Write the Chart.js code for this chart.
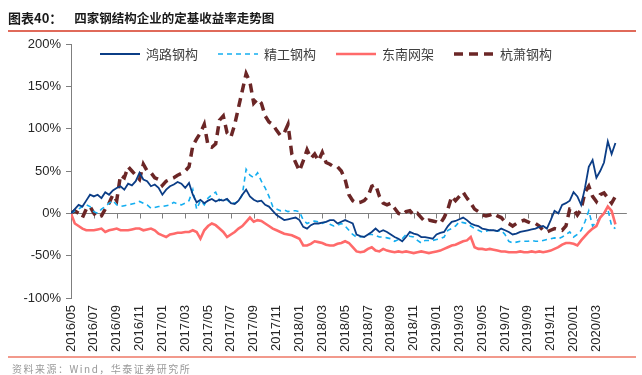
<!DOCTYPE html>
<html>
<head>
<meta charset="utf-8">
<script src="https://cdn.jsdelivr.net/npm/chart.js@4.4.0/dist/chart.umd.min.js"></script>
<style>
  body { margin: 0; background: #fff; }
  #wrap { position: relative; width: 642px; height: 375px; font-family: "Noto Sans CJK SC", sans-serif; }
  #chart { position: absolute; left: 0; top: 0; }
  #title { position: absolute; left: 8px; top: 8px; font-size: 13px; font-weight: bold; color: #1a1a1a; white-space: nowrap; }
  #title span { margin-left: 12px; font-size: 12.5px; }
  #topLine { position: absolute; left: 8px; top: 30px; width: 628px; height: 2px; background: #e06a5a; }
  #bottomLine { position: absolute; left: 8px; top: 356px; width: 628px; height: 2px; background: #f2998c; }
  #source { position: absolute; left: 12px; top: 361px; font-size: 10px; letter-spacing: 1.5px; color: #999; white-space: nowrap; }
</style>
</head>
<body>
<div id="wrap">
  <canvas id="chart" width="642" height="375"></canvas>
  <div id="title">图表40：<span>四家钢结构企业的定基收益率走势图</span></div>
  <div id="topLine"></div>
  <div id="bottomLine"></div>
  <div id="source">资料来源：Wind，华泰证券研究所</div>
</div>
<script>
// tick labels, one every two months (6 points, ~10 days apart)
const monthLabels = ['2016/05', '2016/07', '2016/09', '2016/11', '2017/01', '2017/03', '2017/05', '2017/07',
    '2017/09', '2017/11', '2018/01', '2018/03', '2018/05', '2018/07', '2018/09', '2018/11',
    '2019/01', '2019/03', '2019/05', '2019/07', '2019/09', '2019/11', '2020/01', '2020/03'];

const seriesNames = ['鸿路钢构', '精工钢构', '东南网架', '杭萧钢构'];

// cumulative return since 2016/05, %, three readings per month
const hongluValues = [
    0, 5, 10, 8, 15, 22, 20, 22, 18, 25, 22, 27, 30, 32, 28, 35, 33, 38,
    48, 40, 38, 32, 34, 30, 22, 28, 32, 34, 37, 35, 30, 36, 22, 13, 16, 12,
    15, 17, 14, 16, 15, 17, 12, 11, 15, 22, 28, 20, 16, 14, 15, 10, 8, 3,
    -2, -5, -8, -7, -6, -5, -8, -16, -18, -14, -12, -12, -11, -10, -8, -8, -12, -10,
    -8, -10, -12, -25, -27, -28, -25, -22, -18, -22, -20, -22, -25, -28, -30, -33, -28, -22,
    -24, -25, -28, -28, -29, -30, -25, -23, -22, -15, -10, -9, -7, -5, -8, -12, -14, -15,
    -18, -19, -20, -20, -21, -18, -20, -22, -25, -24, -22, -21, -20, -19, -18, -16, -15, -18,
    -8, 3, 0, 10, 12, 15, 25, 20, 10, 30, 55, 63, 42, 50, 60, 85, 70, 83
];
const jinggongValues = [
    0, 3, 5, 8, 10, 8, 2, 0, 5, 8, 12, 15, 10, 8, 9, 10, 11, 12,
    14, 12, 10, 6, 7, 8, 8, 9, 10, 13, 11, 10, 12, 15, 28, 5, 15, 10,
    18, 22, 25, 15, 18, 16, 12, 12, 14, 22, 52, 45, 42, 48, 38, 30, 20, 8,
    5, 3, 4, 2, 3, 3, 2, -8, -12, -10, -9, -10, -12, -10, -13, -15, -14, -12,
    -15, -20, -25, -28, -28, -27, -25, -25, -26, -28, -28, -29, -30, -33, -31, -30, -25, -27,
    -28, -32, -35, -32, -32, -32, -31, -30, -28, -20, -18, -15, -10, -11, -12, -15, -18, -20,
    -22, -21, -20, -20, -21, -20, -25, -33, -35, -34, -33, -33, -33, -32, -33, -33, -32, -31,
    -30, -29, -30, -28, -25, -22, -28, -25, -20, -10, 3, -15, -10, -5, 0, 5, -15, -18
];
const dongnanValues = [
    0, -12, -15, -18, -20, -20, -20, -19, -18, -22, -20, -19, -18, -20, -20, -20, -19, -18,
    -18, -20, -19, -18, -20, -24, -26, -28, -25, -24, -23, -23, -22, -22, -20, -22, -30, -20,
    -15, -12, -14, -18, -22, -28, -25, -22, -18, -15, -10, -5, -10, -8, -9, -12, -15, -18,
    -20, -22, -24, -25, -26, -28, -30, -38, -38, -36, -33, -34, -35, -37, -38, -38, -36, -35,
    -33, -35, -40, -45, -46, -45, -42, -40, -44, -45, -42, -44, -45, -46, -45, -46, -45, -46,
    -47, -46, -45, -46, -47, -46, -45, -44, -42, -40, -38, -37, -35, -33, -32, -28, -40, -42,
    -42, -43, -42, -43, -44, -45, -45, -46, -46, -46, -45, -46, -46, -45, -46, -45, -46, -45,
    -44, -42, -40, -37, -35, -35, -36, -38, -32, -27, -22, -18, -15, -5, 0, 8, 3, -13
];
const hangxiaoValues = [
    0, 3, 0, -5, 5, 8, 0, -5, -3, 5, 12, 22, 15, 45, 42, 55, 50, 45,
    40, 58, 50, 48, 42, 40, 33, 38, 40, 42, 45, 47, 50, 55, 80, 88, 95, 105,
    80, 78, 82, 110, 115, 95, 90, 105, 125, 145, 165, 155, 130, 135, 130, 115, 108, 105,
    98, 92, 95, 105, 70, 60, 50, 62, 75, 65, 70, 62, 72, 60, 58, 55, 55, 50,
    40, 22, 15, 12, 13, 15, 20, 32, 34, 20, 12, 10, 12, 6, 0, -2, 2, 3,
    -2, 0, -5, -10, -8, -9, -10, -12, -5, 5, 20, 15, 20, 25, 18, 12, 5, 2,
    -2, -3, -2, 0, -3, -5, -10, -12, -15, -12, -10, -8, -10, -12, -12, -15, -20, -22,
    -20, -18, -19, -20, -15, 5, 5, -2, 5, 25, 32, 20, 14, 22, 24, 18, 12, 20
];

function toPoints(values) {
    return values.map((v, i) => ({ x: i, y: v }));
}

// x axis drawn through 0% with tick marks, as in the source chart
const zeroAxis = {
    id: 'zeroAxis',
    beforeDatasetsDraw(chart) {
        const { ctx, chartArea, scales } = chart;
        const y0 = Math.round(scales.y.getPixelForValue(0)) + 0.5;
        ctx.save();
        ctx.strokeStyle = '#7f7f7f';
        ctx.lineWidth = 1;
        ctx.beginPath();
        ctx.moveTo(chartArea.left, y0);
        ctx.lineTo(chartArea.right, y0);
        scales.x.ticks.forEach(t => {
            if (t.value / 6 >= monthLabels.length) return;
            const px = Math.round(scales.x.getPixelForValue(t.value)) + 0.5;
            ctx.moveTo(px, y0);
            ctx.lineTo(px, y0 + 5);
        });
        ctx.stroke();
        ctx.restore();
    }
};

// legend row inside the plot area
const insideLegend = {
    id: 'insideLegend',
    afterDatasetsDraw(chart) {
        const { ctx, chartArea } = chart;
        const y = chartArea.top + 10;
        ctx.save();
        chart.data.datasets.forEach((ds, i) => {
            const x0 = chartArea.left + 29 + i * 118;
            ctx.strokeStyle = ds.borderColor;
            ctx.lineWidth = ds.borderWidth;
            ctx.setLineDash(ds.borderDash || []);
            ctx.beginPath();
            ctx.moveTo(x0, y);
            ctx.lineTo(x0 + 40, y);
            ctx.stroke();
            ctx.setLineDash([]);
            ctx.fillStyle = '#404040';
            ctx.font = '13px "Noto Sans CJK SC"';
            ctx.textBaseline = 'middle';
            ctx.fillText(ds.label, x0 + 46, y);
        });
        ctx.restore();
    }
};

const ctx = document.getElementById('chart').getContext('2d');
const chart = new Chart(ctx, {
    type: 'line',
    data: {
        datasets: [{
            label: seriesNames[0],
            data: toPoints(hongluValues),
            borderColor: '#0b3d86',
            borderWidth: 1.8,
            order: 1
        }, {
            label: seriesNames[1],
            data: toPoints(jinggongValues),
            borderColor: '#14aef0',
            borderWidth: 1.6,
            borderDash: [5, 4],
            order: 3
        }, {
            label: seriesNames[2],
            data: toPoints(dongnanValues),
            borderColor: '#ff6a6a',
            borderWidth: 2.6,
            order: 2
        }, {
            label: seriesNames[3],
            data: toPoints(hangxiaoValues),
            borderColor: '#6b2626',
            borderWidth: 3.5,
            borderDash: [9, 6],
            order: 4
        }]
    },
    options: {
        responsive: false,
        animation: false,
        elements: { point: { radius: 0 }, line: { tension: 0 } },
        layout: { padding: { left: 0, top: 44, right: 12, bottom: 17 } },
        plugins: {
            legend: { display: false },
            tooltip: { enabled: false }
        },
        scales: {
            x: {
                type: 'linear',
                min: 0,
                max: 146,
                afterFit: s => { s.height = 60; },
                grid: { display: false, drawTicks: false },
                border: { display: false },
                ticks: {
                    stepSize: 6,
                    includeBounds: false,
                    autoSkip: false,
                    maxRotation: 90,
                    minRotation: 90,
                    padding: 7,
                    color: '#262626',
                    font: { family: '"Liberation Sans", Arial', size: 13 },
                    callback: v => monthLabels[v / 6] || ''
                }
            },
            y: {
                min: -100,
                max: 200,
                afterFit: s => { s.width = 71; },
                grid: { drawOnChartArea: false, tickLength: 5, color: '#7f7f7f' },
                border: { color: '#7f7f7f' },
                ticks: {
                    stepSize: 50,
                    padding: 5,
                    color: '#262626',
                    font: { family: '"Liberation Sans", Arial', size: 13 },
                    callback: v => v + '%'
                }
            }
        }
    },
    plugins: [zeroAxis, insideLegend]
});
</script>
</body>
</html>
